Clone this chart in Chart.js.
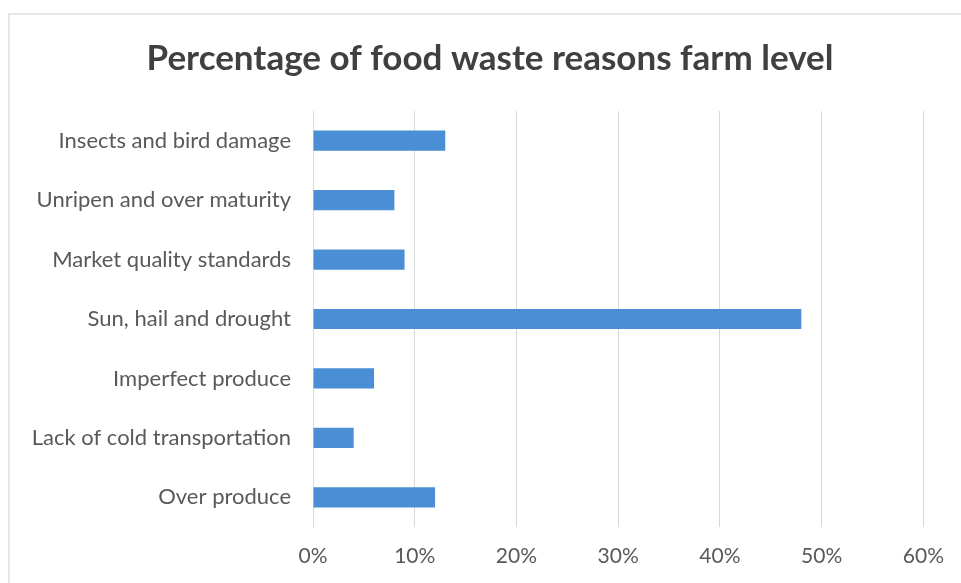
<!DOCTYPE html>
<html><head><meta charset="utf-8">
<script src="https://cdn.jsdelivr.net/npm/chart.js@4/dist/chart.umd.min.js"></script>
<style>
html,body{margin:0;padding:0;background:#fff;}
#wrap{position:absolute;left:0;top:0;width:961px;height:583px;}
#frame{position:absolute;left:8px;top:13px;width:960px;height:580px;border:2px solid #e6e6e6;box-sizing:border-box;}
</style></head>
<body>
<div id="frame"></div>
<div id="wrap"><canvas id="c" width="961" height="583"></canvas></div>
<script>
const categories = ["Insects and bird damage","Unripen and over maturity","Market quality standards","Sun, hail and drought","Imperfect produce","Lack of cold transportation","Over produce"];
const values = [13, 8, 9, 48, 6, 4, 12];
const tickValues = [0, 10, 20, 30, 40, 50, 60];
const titleText = "Percentage of food waste reasons farm level";

const shiftTitle = {
  id: 'shiftTitle',
  afterLayout(chart) { if (chart.titleBlock) { chart.titleBlock.left += 56; } }
};

new Chart(document.getElementById('c'), {
  type: 'bar',
  data: { labels: categories, datasets: [{ data: values, backgroundColor: '#4a8fd6', borderWidth: 0, categoryPercentage: 0.34, barPercentage: 1 }] },
  plugins: [shiftTitle],
  options: {
    indexAxis: 'y', responsive: false, animation: false,
    layout: { padding: { left: 0, right: 37, top: 38, bottom: 0 } },
    plugins: {
      legend: { display: false }, tooltip: { enabled: false },
      title: { display: true, text: titleText, color: '#404040', font: { family: 'Lato', size: 35, weight: 'bold' }, padding: { top: 0, bottom: 31 } }
    },
    scales: {
      x: { min: 0, max: 60, afterBuildTicks: s => { s.ticks = tickValues.map(v => ({ value: v })); },
        afterFit: s => { s.height = 56; },
        grid: { color: '#d9d9d9', lineWidth: 1, drawTicks: false }, border: { display: false },
        ticks: { color: '#595959', font: { family: 'Lato', size: 21 }, padding: 17, callback: v => v + '%' } },
      y: { grid: { display: false }, border: { color: '#d9d9d9' },
        afterFit: s => { s.width = 313; },
        ticks: { color: '#595959', font: { family: 'Lato', size: 22 }, padding: 14 } }
    }
  }
});
</script>
</body></html>
